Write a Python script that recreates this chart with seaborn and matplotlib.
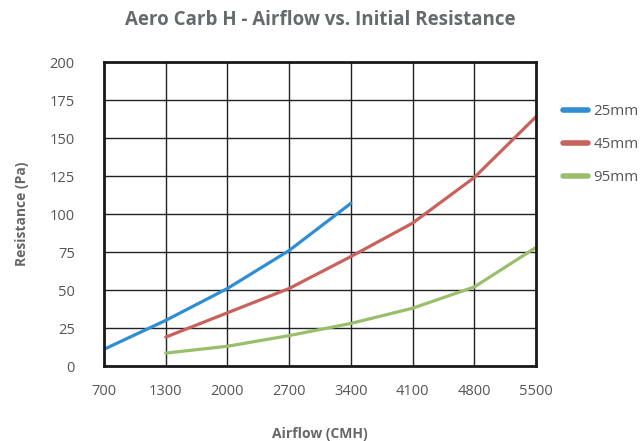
import matplotlib
matplotlib.use("Agg")
import matplotlib.pyplot as plt
import seaborn as sns
import pandas as pd
import numpy as np

airflow = ["700", "1300", "2000", "2700", "3400", "4100", "4800", "5500"]
r25 = [11, 30, 51, 76, 107, None, None, None]
r45 = [None, 19, 35, 51, 72, 94, 124, 164]
r95 = [None, 8.5, 13, 20, 28, 38, 52, 78]
series_names = ["25mm", "45mm", "95mm"]
colors = ["#2F8ED3", "#C8625C", "#9BBE6B"]

rows = []
for name, vals in zip(series_names, [r25, r45, r95]):
    for i, v in enumerate(vals):
        if v is not None:
            rows.append({"pos": i, "Resistance": v, "Series": name})
df = pd.DataFrame(rows)

sns.set_theme(style="white")
plt.rcParams["font.family"] = ["Open Sans", "DejaVu Sans"]

fig = plt.figure(figsize=(6.4, 4.41), dpi=100)
ax = fig.add_axes([104/640, 1-366/441, 432/640, 304/441])

sns.lineplot(data=df, x="pos", y="Resistance", hue="Series", palette=colors,
             hue_order=series_names, linewidth=2.3, ax=ax, legend=True)

ax.set_xlim(0, len(airflow)-1)
ax.set_ylim(0, 200)
ax.set_xticks(range(len(airflow)))
ax.set_xticklabels(airflow)
ax.set_yticks(range(0, 201, 25))
ax.grid(True, color="#222222", linewidth=1.0)
ax.set_axisbelow(True)
for s in ax.spines.values():
    s.set_visible(True)
    s.set_color("#1a1a1a")
    s.set_linewidth(2)
ax.tick_params(axis="both", length=0, labelsize=10.5, labelcolor="#555555")
ax.tick_params(axis="x", pad=13)
ax.tick_params(axis="y", pad=21)

ax.set_xlabel("Airflow (CMH)", fontsize=10, fontweight="bold", color="#666666", labelpad=20)
ax.set_ylabel("Resistance (Pa)", fontsize=10, fontweight="bold", color="#666666", labelpad=15)
fig.text(0.5, 1-20/441, "Aero Carb H - Airflow vs. Initial Resistance", ha="center", va="center",
         fontsize=13.5, fontweight="bold", color="#666a6e")

handles, labels = ax.get_legend_handles_labels()
for h in handles:
    h.set_linewidth(4)
    h.set_solid_capstyle("round")
ax.legend(handles, labels, loc="upper left", bbox_to_anchor=(563/640, 1-104/441),
          bbox_transform=fig.transFigure, frameon=False, fontsize=10.8, handlelength=1.65,
          labelspacing=1.2, handletextpad=0.4, labelcolor="#555555", borderaxespad=0,
          borderpad=0)

fig.savefig("out.png", dpi=100)
